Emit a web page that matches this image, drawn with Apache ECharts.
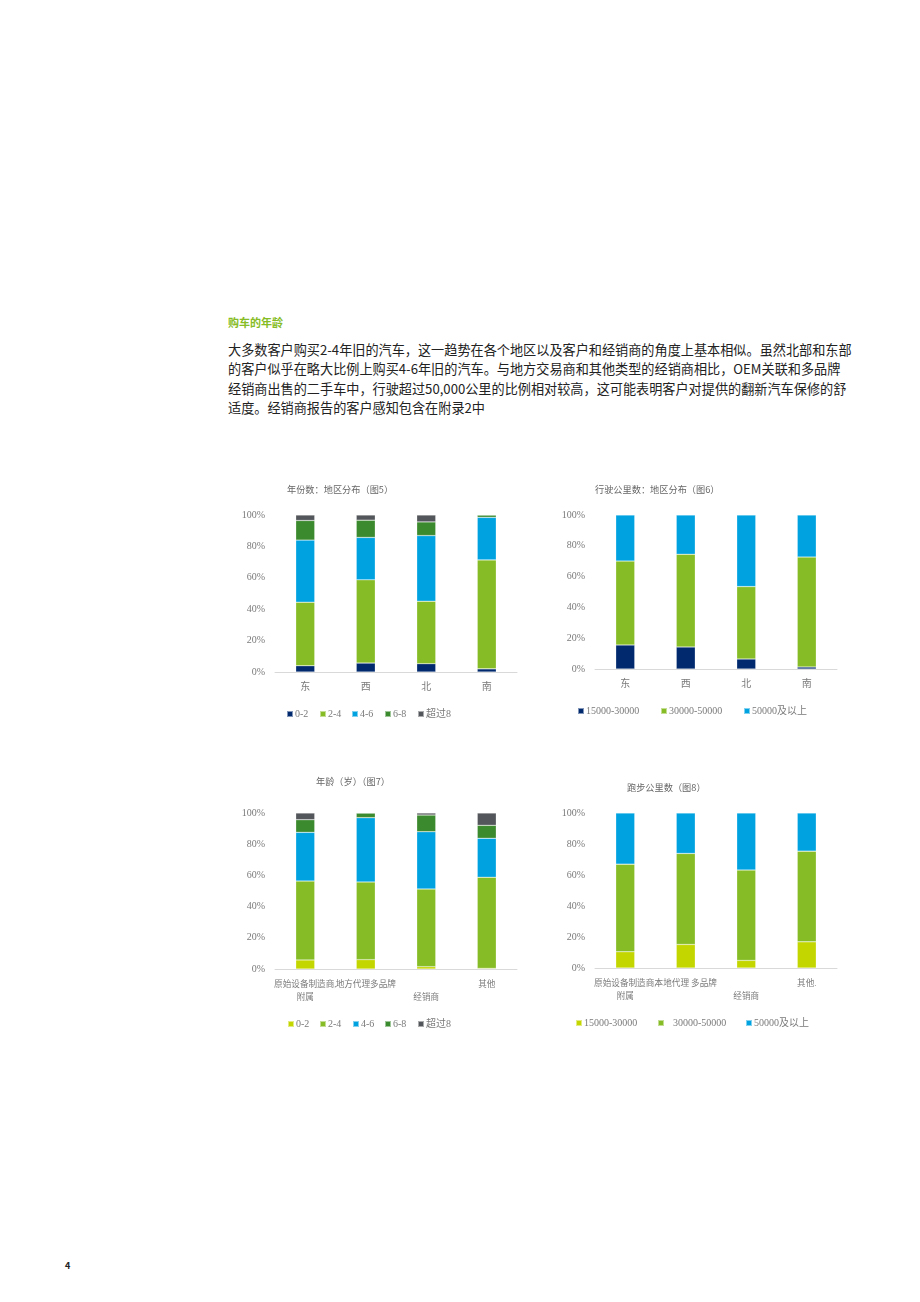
<!DOCTYPE html>
<html><head><meta charset="utf-8">
<script src="https://cdn.jsdelivr.net/npm/echarts@6/dist/echarts.min.js"></script>
<style>
html,body{margin:0;padding:0;background:#fff;}
body{width:920px;height:1302px;position:relative;overflow:hidden;font-family:"Noto Sans CJK SC","Noto Sans",sans-serif;}
#h{position:absolute;left:228px;top:314px;font-size:11px;font-weight:bold;color:#86BC25;}
#p{position:absolute;left:228px;top:340px;font-size:13.15px;line-height:19.4px;color:#222;white-space:nowrap;}
#pg{position:absolute;left:65px;top:1259px;font-size:9px;font-weight:bold;color:#222;}
.c{position:absolute;}
</style></head>
<body>
<div id="h">购车的年龄</div>
<div id="p">大多数客户购买2-4年旧的汽车，这一趋势在各个地区以及客户和经销商的角度上基本相似。虽然北部和东部<br>的客户似乎在略大比例上购买4-6年旧的汽车。与地方交易商和其他类型的经销商相比，OEM关联和多品牌<br>经销商出售的二手车中，行驶超过50,000公里的比例相对较高，这可能表明客户对提供的翻新汽车保修的舒<br>适度。经销商报告的客户感知包含在附录2中</div>
<div id="pg">4</div>
<div id="c1" class="c" style="left:230px;top:475px;width:300px;height:250px"></div>
<div id="c2" class="c" style="left:550px;top:475px;width:300px;height:250px"></div>
<div id="c3" class="c" style="left:230px;top:770px;width:300px;height:265px"></div>
<div id="c4" class="c" style="left:550px;top:770px;width:300px;height:265px"></div>
<script>
// ---- data ----
const regionCats = ['东', '西', '北', '南'];
const ageNames = ['0-2', '2-4', '4-6', '6-8', '超过8'];
const fig5_0_2 = [4.0, 5.7, 5.3, 2.0];
const fig5_2_4 = [40.5, 53.0, 39.8, 69.4];
const fig5_4_6 = [39.5, 27.0, 41.8, 27.1];
const fig5_6_8 = [12.5, 11.0, 8.7, 1.5];
const fig5_8p = [3.5, 3.3, 4.4, 0];

const kmNames = ['15000-30000', '30000-50000', '50000及以上'];
const fig6_15_30 = [15.6, 14.3, 6.5, 1.3];
const fig6_30_50 = [54.5, 60.2, 47.0, 71.4];
const fig6_50p = [29.9, 25.5, 46.5, 27.3];

const dealerCats7 = ['原始设备制造商,\n附属', '地方代理多品牌\n', '\n经销商', '其他'];
const fig7_0_2 = [5.8, 6.0, 1.5, 0.4];
const fig7_2_4 = [50.6, 49.8, 49.8, 58.4];
const fig7_4_6 = [31.2, 41.2, 36.7, 25.0];
const fig7_6_8 = [8.1, 3.0, 10.7, 8.3];
const fig7_8p = [4.3, 0, 1.3, 7.9];

const dealerCats8 = ['原始设备制造商,\n附属', '本地代理 多品牌\n', '\n经销商', '其他.'];
const fig8_15_30 = [10.5, 15.2, 4.9, 16.9];
const fig8_30_50 = [56.5, 58.7, 58.3, 58.5];
const fig8_50p = [33.0, 26.1, 36.8, 24.6];

const yTicks = [0, 20, 40, 60, 80, 100];

// ---- styles ----
const NAVY = '#012A6E', GREEN = '#86BC25', BLUE = '#00A3E0', DKGREEN = '#3C8A2E', GRAY = '#53565A', YG = '#C4D600';
const FONT = "'Liberation Serif','Noto Sans CJK SC',serif";
const TXT = '#7a7a7a';

function build(o) {
  const series = o.names.map((n, i) => ({
    name: n, type: 'bar', stack: 's', barWidth: 19,
    data: o.data[i],
    itemStyle: { color: o.colors[i], borderColor: 'rgba(255,255,255,0.5)', borderWidth: 0.5 },
    emphasis: { disabled: true }
  }));
  const legend = o.names.map((n, i) => ({
    data: [n], left: o.legendX[i], top: o.legendY, icon: 'rect', itemWidth: 6, itemHeight: 6,
    itemGap: 0, padding: 0, selectedMode: false,
    textStyle: { fontFamily: FONT, fontSize: 10, color: TXT, padding: (o.legendPad ? o.legendPad[i] : [0, 0, 0, -3]) }
  }));
  return {
    animation: false,
    title: { text: o.title, left: o.titleX, top: o.titleY, padding: 0,
      textStyle: { fontFamily: "'Noto Sans CJK SC',sans-serif", fontSize: 9.2, fontWeight: 'normal', color: '#666' } },
    legend: legend,
    grid: { left: 45, right: 13, top: o.gridTop, bottom: o.gridBottom, containLabel: false, outerBoundsMode: 'none' },
    xAxis: { type: 'category', data: o.cats,
      axisLine: { lineStyle: { color: '#d9d9d9', width: 1 } }, axisTick: { show: false },
      axisLabel: { fontFamily: FONT, fontSize: o.xFont, color: TXT, margin: 9, lineHeight: 13, interval: 0 } },
    yAxis: { type: 'value', min: yTicks[0], max: yTicks[yTicks.length - 1], interval: yTicks[1] - yTicks[0],
      splitLine: { show: false }, axisLine: { show: false }, axisTick: { show: false },
      axisLabel: { formatter: '{value}%', fontFamily: FONT, fontSize: 10, color: TXT, margin: 10 } },
    series: series
  };
}

echarts.init(document.getElementById('c1')).setOption(build({
  title: '年份数：地区分布（图5）', titleX: 57, titleY: 10,
  names: ageNames, cats: regionCats, xFont: 10,
  data: [fig5_0_2, fig5_2_4, fig5_4_6, fig5_6_8, fig5_8p],
  colors: [NAVY, GREEN, BLUE, DKGREEN, GRAY],
  legendX: [56, 89, 121, 154, 187], legendY: 234,
  gridTop: 40, gridBottom: 53
}));
echarts.init(document.getElementById('c2')).setOption(build({
  title: '行驶公里数：地区分布（图6）', titleX: 45, titleY: 10,
  names: kmNames, cats: regionCats, xFont: 10,
  data: [fig6_15_30, fig6_30_50, fig6_50p],
  colors: [NAVY, GREEN, BLUE],
  legendX: [27, 110, 193], legendY: 231,
  gridTop: 40, gridBottom: 56
}));
echarts.init(document.getElementById('c3')).setOption(build({
  title: '年龄（岁）（图7）', titleX: 86, titleY: 7,
  names: ageNames, cats: dealerCats7, xFont: 8.6,
  data: [fig7_0_2, fig7_2_4, fig7_4_6, fig7_6_8, fig7_8p],
  colors: [YG, GREEN, BLUE, DKGREEN, GRAY],
  legendX: [57, 89, 122, 154, 187], legendY: 249,
  gridTop: 43, gridBottom: 66
}));
echarts.init(document.getElementById('c4')).setOption(build({
  title: '跑步公里数（图8）', titleX: 77, titleY: 13,
  names: kmNames, cats: dealerCats8, xFont: 8.6,
  data: [fig8_15_30, fig8_30_50, fig8_50p],
  colors: [YG, GREEN, BLUE],
  legendX: [25, 107, 195], legendY: 248, legendPad: [[0, 0, 0, -3], [0, 0, 0, 4], [0, 0, 0, -3]],
  gridTop: 43, gridBottom: 67
}));
</script>
</body></html>
